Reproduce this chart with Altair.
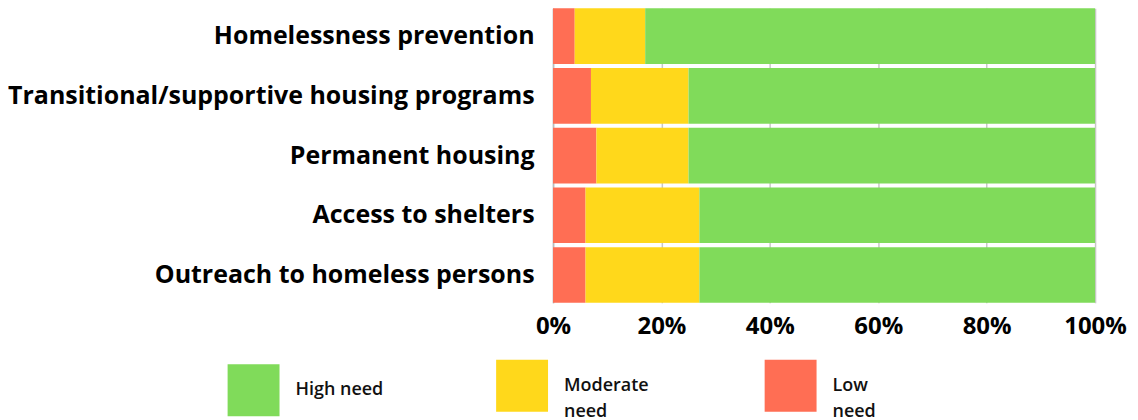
import altair as alt
import pandas as pd

categories = [
    "Homelessness prevention",
    "Transitional/supportive housing programs",
    "Permanent housing",
    "Access to shelters",
    "Outreach to homeless persons",
]
low_need = [4, 7, 8, 6, 6]
moderate_need = [13, 18, 17, 21, 21]
high_need = [83, 75, 75, 73, 73]

levels = ["High need", "Moderate need", "Low need"]
level_colors = ["#80DB5A", "#FFD81B", "#FF6E54"]
stack_rank = {"Low need": 0, "Moderate need": 1, "High need": 2}

rows = []
for i, c in enumerate(categories):
    for lvl, vals in (("Low need", low_need), ("Moderate need", moderate_need), ("High need", high_need)):
        rows.append({"category": c, "level": lvl, "value": vals[i] / 100.0, "rank": stack_rank[lvl]})
df = pd.DataFrame(rows)

cfg = alt.Config(
    view=alt.ViewConfig(stroke=None),
    style={"guide-label": {"lineHeight": 26}},
)

chart = alt.Chart(df, config=cfg).mark_bar().encode(
    y=alt.Y(
        "category:N",
        sort=categories,
        title=None,
        scale=alt.Scale(paddingInner=0.07, paddingOuter=0),
        axis=alt.Axis(
            labelFont="Open Sans",
            labelFontWeight="bold",
            labelFontSize=25,
            labelColor="#000000",
            labelPadding=19,
            labelLimit=600,
            ticks=False,
            domain=True,
            domainColor="#BBBBBB",
            domainWidth=1.5,
            grid=False,
        ),
    ),
    x=alt.X(
        "value:Q",
        stack="zero",
        title=None,
        scale=alt.Scale(domain=[0, 1], nice=False),
        axis=alt.Axis(
            format="%",
            values=[0, 0.2, 0.4, 0.6, 0.8, 1.0],
            labelFont="Open Sans",
            labelFontWeight="bold",
            labelFontSize=24,
            labelColor="#000000",
            labelPadding=12,
            ticks=False,
            domain=False,
            grid=True,
            gridColor="#C8C8C8",
            gridWidth=1.5,
            labelFlush=False,
        ),
    ),
    color=alt.Color(
        "level:N",
        scale=alt.Scale(domain=levels, range=level_colors),
        legend=alt.Legend(
            title=None,
            orient="none",
            direction="horizontal",
            columns=3,
            gridAlign="all",
            legendX=-326,
            legendY=352,
            symbolType="square",
            symbolSize=2704,
            symbolStrokeWidth=0,
            symbolOpacity=1,
            labelFont="Open Sans",
            labelFontWeight=600,
            labelFontSize=18,
            labelColor="#111111",
            labelOffset=16,
            columnPadding=112,
            labelExpr="datum.label == 'High need' ? datum.label : split(datum.label, ' ')",
        ),
    ),
    order=alt.Order("rank:Q", sort="ascending"),
).properties(
    width=543,
    height=295,
    padding={"left": 546, "top": 0, "right": 35, "bottom": 117},
    autosize=alt.AutoSizeParams(type="none"),
)

chart.save("out.html", embed_options={"renderer": "svg", "actions": False})
